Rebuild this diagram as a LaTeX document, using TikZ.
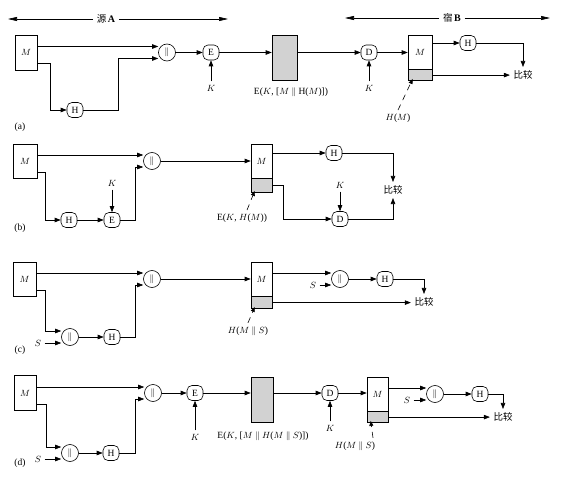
\documentclass[tikz,border=0pt]{standalone}
\usepackage{fontspec}
\setmainfont{Liberation Serif}
\newfontfamily\cjk{Noto Sans CJK SC}
\usetikzlibrary{arrows.meta,positioning}
\tikzset{
  blk/.style={draw,minimum width=22pt,minimum height=35pt,inner sep=0pt},
  low/.style={draw,fill=gray!35,minimum width=22pt,minimum height=12pt,inner sep=0pt},
  fn/.style={draw,rounded corners=5pt,minimum width=16pt,minimum height=15pt,inner sep=0pt},
  cat/.style={draw,circle,minimum size=17pt,inner sep=0pt},
  arr/.style={-{Triangle[length=6pt,width=4.5pt]}},
  lead/.style={dash pattern=on 6pt off 5pt,-{Triangle[length=5pt,width=4pt]}},
  big/.style={-{Triangle[length=9pt,width=4pt]}}
}
\begin{document}
\begin{tikzpicture}[x=1pt,y=-1pt,line width=0.6pt,font=\fontsize{9.5}{11}\selectfont]
\useasboundingbox (0,0) rectangle (568,484);
\node (src) at (106,19) {{\cjk 源}\,\textbf{\normalsize A}};
\coordinate (srcL) at (8,19);
\coordinate (srcR) at (228,19);
\draw[big] (src) -- (srcL);
\draw[big] (src) -- (srcR);
\node (dst) at (452,18) {{\cjk 宿}\,\textbf{\normalsize B}};
\coordinate (dstL) at (345,18);
\coordinate (dstR) at (550,18);
\draw[big] (dst) -- (dstL);
\draw[big] (dst) -- (dstR);

\node[blk] (Ma) at (26,52.5) {$M$};
\node[fn] (Ha) at (75,110) {H};
\node[cat] (Ca) at (167,52.5) {$\|$};
\node[fn] (Ea) at (211,52.5) {E};
\node (Ka) at (211,88) {$K$};
\node[blk,fill=gray!35,minimum width=25pt,minimum height=45pt] (Ga) at (284.5,57.5) {};
\node (EKa) at (291,92) {E($K$, [$M$ $\|$ H($M$)])};
\node[fn] (Da) at (369,52.5) {D};
\node (KDa) at (369,88) {$K$};
\node[blk,minimum width=24pt,minimum height=34pt] (Ra) at (420,52) {$M$};
\node[low,minimum width=24pt,minimum height=11pt,below=0pt of Ra] (RLa) {};
\node[fn] (HRa) at (468,43) {H};
\node (CPa) at (523,75) {\cjk 比较};
\node (HMa) at (398,118) {$H$($M$)};
\node (la) at (20,127) {(a)};
\draw[arr] ([yshift=6pt]Ma.east) -- ([yshift=6pt]Ca.west);
\draw[arr] ([yshift=-11pt]Ma.east) -- ++(13,0) |- (Ha.west);
\draw[arr] (Ha.east) -- ++(35,0) |- ([yshift=-6pt]Ca.west);
\draw[arr] (Ca) -- (Ea);
\draw[arr] (Ka) -- (Ea);
\draw[arr] (Ea) -- (Ea -| Ga.west);
\draw[arr] (Ga.east |- Da) -- (Da);
\draw[arr] (KDa) -- (Da);
\draw[arr] (Da) -- (Da -| Ra.west);
\draw[arr] (Ra.east |- HRa) -- (HRa);
\draw[arr] (HRa) -| (CPa);
\draw[arr] (RLa) -- (RLa -| CPa.west);
\draw[lead] (HMa.north) -- ([xshift=5pt,yshift=2pt]RLa.south west);

\node[blk,minimum width=24pt,minimum height=34pt] (Mb) at (25,161) {$M$};
\node[fn] (Hb) at (69,220) {H};
\node[fn] (Eb) at (112,220) {E};
\node (Kb) at (112,183) {$K$};
\node[cat] (Cb) at (152,161) {$\|$};
\node[blk,minimum width=21pt,minimum height=34pt] (Rb) at (261.5,161) {$M$};
\node[low,minimum width=21pt,minimum height=14pt,below=0pt of Rb] (RLb) {};
\node[fn] (HRb) at (334,153) {H};
\node[fn] (Db) at (340,219) {D};
\node (KDb) at (340,185) {$K$};
\node (CPb) at (393,190) {\cjk 比较};
\node (EKb) at (242,218) {E($K$, $H$($M$))};
\node (lb) at (20,228) {(b)};
\draw[arr] ([yshift=6pt]Mb.east) -- ([yshift=6pt]Cb.west);
\draw[arr] ([yshift=-11pt]Mb.east) -- ++(8,0) |- (Hb.west);
\draw[arr] (Hb) -- (Eb);
\draw[arr] (Kb) -- (Eb);
\draw[arr] (Eb.east) -- ++(15,0) |- ([yshift=-6pt]Cb.west);
\draw[arr] (Cb) -- (Cb -| Rb.west);
\draw[arr] (Rb.east |- HRb) -- (HRb);
\draw[arr] (HRb) -| (CPb);
\draw[arr] (RLb.east) -- ++(11,0) |- (Db.west);
\draw[arr] (KDb) -- (Db);
\draw[arr] (Db) -| (CPb);
\draw[lead] ([xshift=5pt]EKb.north) -- ([xshift=4pt,yshift=2pt]RLb.south west);

\node[blk,minimum width=23pt,minimum height=34pt] (Mc) at (24.5,279) {$M$};
\node[cat] (C2c) at (70,337) {$\|$};
\node (Sc) at (38,343) {$S$};
\node[fn] (Hc) at (112,337) {H};
\node[cat] (Cc) at (152,279) {$\|$};
\node[blk,minimum width=21pt,minimum height=34pt] (Rc) at (261.5,279) {$M$};
\node[low,minimum width=21pt,below=0pt of Rc] (RLc) {};
\node[cat] (C3c) at (340,279) {$\|$};
\node (S3c) at (313,285) {$S$};
\node[fn] (HRc) at (385,279) {H};
\node (CPc) at (424,302) {\cjk 比较};
\node (HMc) at (248,331) {$H$($M$ $\|$ $S$)};
\node (lc) at (20,350) {(c)};
\draw[arr] ([yshift=6pt]Mc.east) -- ([yshift=6pt]Cc.west);
\draw[arr] ([yshift=-11pt]Mc.east) -- ++(9,0) |- ([yshift=6pt]C2c.west);
\draw[arr] (Sc) -- ([yshift=-6pt]C2c.west);
\draw[arr] (C2c) -- (Hc);
\draw[arr] (Hc.east) -- ++(15,0) |- ([yshift=-6pt]Cc.west);
\draw[arr] (Cc) -- (Cc -| Rc.west);
\draw[arr] ([yshift=6pt]Rc.east) -- ([yshift=6pt]C3c.west);
\draw[arr] (S3c) -- ([yshift=-6pt]C3c.west);
\draw[arr] (C3c) -- (HRc);
\draw[arr] (HRc) -| (CPc);
\draw[arr] (RLc) -- (RLc -| CPc.west);
\draw[lead] (HMc.north) -- ([xshift=4pt,yshift=2pt]RLc.south west);

\node[blk] (Md) at (25,393) {$M$};
\node[cat] (C2d) at (70,453) {$\|$};
\node (Sd) at (38,459) {$S$};
\node[fn] (Hd) at (111,453) {H};
\node[cat] (Cd) at (153,393) {$\|$};
\node[fn] (Ed) at (195,393) {E};
\node (Kd) at (195,437) {$K$};
\node[blk,fill=gray!35,minimum width=22pt,minimum height=45pt] (Gd) at (262,399.5) {};
\node (EKd) at (263,436) {E($K$, [$M$ $\|$ $H$($M$ $\|$ $S$)])};
\node[fn] (Dd) at (330,393) {D};
\node (KDd) at (330,428) {$K$};
\node[blk,minimum width=21pt,minimum height=34pt] (Rd) at (377.5,394) {$M$};
\node[low,minimum width=21pt,minimum height=11pt,below=0pt of Rd] (RLd) {};
\node[cat] (C3d) at (435,394) {$\|$};
\node (S3d) at (407,400) {$S$};
\node[fn] (HRd) at (480,394) {H};
\node (CPd) at (503,417) {\cjk 比较};
\node (HMd) at (355,446) {$H$($M$ $\|$ $S$)};
\node (ld) at (20,463) {(d)};
\draw[arr] ([yshift=6pt]Md.east) -- ([yshift=6pt]Cd.west);
\draw[arr] ([yshift=-11pt]Md.east) -- ++(10,0) |- ([yshift=6pt]C2d.west);
\draw[arr] (Sd) -- ([yshift=-6pt]C2d.west);
\draw[arr] (C2d) -- (Hd);
\draw[arr] (Hd.east) -- ++(16,0) |- ([yshift=-6pt]Cd.west);
\draw[arr] (Cd) -- (Ed);
\draw[arr] (Kd) -- (Ed);
\draw[arr] (Ed) -- (Ed -| Gd.west);
\draw[arr] (Gd.east |- Dd) -- (Dd);
\draw[arr] (KDd) -- (Dd);
\draw[arr] (Dd) -- (Dd -| Rd.west);
\draw[arr] ([yshift=6pt]Rd.east) -- ([yshift=6pt]C3d.west);
\draw[arr] (S3d) -- ([yshift=-6pt]C3d.west);
\draw[arr] (C3d) -- (HRd);
\draw[arr] (HRd) -| (CPd);
\draw[arr] (RLd) -- (RLd -| CPd.west);
\draw[lead] ([xshift=18pt]HMd.north) -- ([xshift=4pt,yshift=2pt]RLd.south west);
\end{tikzpicture}
\end{document}
